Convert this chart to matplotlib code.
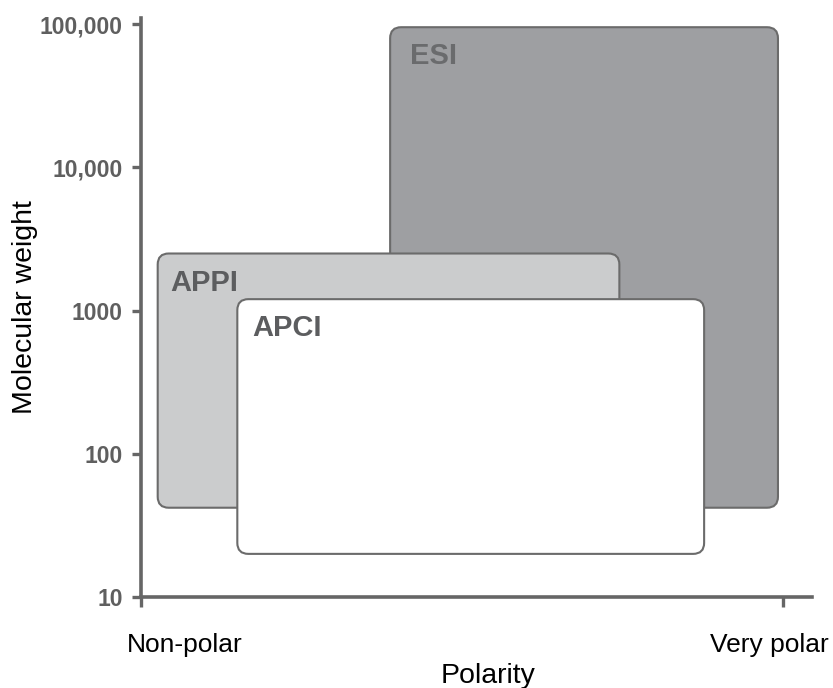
import matplotlib
matplotlib.use("Agg")
import matplotlib.pyplot as plt
from matplotlib.patches import FancyBboxPatch
from matplotlib.transforms import IdentityTransform
from matplotlib.ticker import NullLocator

plt.rcParams["font.family"] = ["Liberation Sans", "DejaVu Sans"]

# Ionisation techniques and the polarity / molecular-weight range each covers
techniques = ["ESI", "APPI", "APCI"]
polarity_low = [0.388, 0.026, 0.150]
polarity_high = [0.992, 0.745, 0.877]
mw_low = [42, 42, 20]
mw_high = [95000, 2500, 1200]

box_fills = ["#9e9fa2", "#cbcccd", "#ffffff"]
label_colors = ["#6a6b6d", "#5c5d5f", "#5c5d5f"]

y_ticks = [10, 100, 1000, 10000, 100000]
y_tick_labels = ["10", "100", "1000", "10,000", "100,000"]
x_ticks = [0, 1]
x_tick_labels = ["Non-polar", "Very polar"]

W, H = 833, 688
fig = plt.figure(figsize=(W / 100, H / 100), dpi=100)
fig.patch.set_facecolor("white")
ax = fig.add_axes([141 / W, (H - 597) / H, (812 - 141) / W, (597 - 18) / H])

ax.set_yscale("log")
ax.set_xlim(0, 1.045)
ax.set_ylim(10, 10 ** 5.042)

axis_grey = "#666666"
for side in ("top", "right"):
    ax.spines[side].set_visible(False)
for side in ("left", "bottom"):
    ax.spines[side].set_color(axis_grey)
    ax.spines[side].set_linewidth(2.6)

ax.set_yticks(y_ticks)
ax.set_yticklabels(y_tick_labels)
ax.yaxis.set_minor_locator(NullLocator())
ax.tick_params(axis="y", length=6.5, width=2.4, color=axis_grey,
               labelsize=16.5, labelcolor="#5f5f5f", pad=6.5)
for t in ax.get_yticklabels():
    t.set_fontweight("bold")

ax.set_xticks(x_ticks)
ax.set_xticklabels(["", ""])
ax.tick_params(axis="x", length=7.5, width=2.4, color=axis_grey)

# Rounded boxes, drawn in pixel space so the corners stay circular on the log axis
label_dx = [20, 13, 15]
for i, name in enumerate(techniques):
    x0, y0 = ax.transData.transform((polarity_low[i], mw_low[i]))
    x1, y1 = ax.transData.transform((polarity_high[i], mw_high[i]))
    box = FancyBboxPatch((x0, y0), x1 - x0, y1 - y0,
                         boxstyle="round,pad=0,rounding_size=11",
                         transform=IdentityTransform(),
                         facecolor=box_fills[i], edgecolor="#6b6b6b",
                         linewidth=1.5, zorder=2 + 2 * i)
    ax.add_patch(box)
    ax.annotate(name, xy=(polarity_low[i], mw_high[i]), xycoords="data",
                xytext=(label_dx[i], -37), textcoords="offset pixels",
                ha="left", va="baseline", fontsize=21, fontweight="bold",
                color=label_colors[i], zorder=3 + 2 * i)

# Polarity end labels under the axis
for xc, lbl in zip([0.0685, 0.978], x_tick_labels):
    ax.annotate(lbl, xy=(xc, 0), xycoords=("data", "axes fraction"),
                xytext=(0, -55), textcoords="offset pixels",
                ha="center", va="baseline", fontsize=19, color="black",
                annotation_clip=False)

ax.annotate("Polarity", xy=(0.540, 0), xycoords=("data", "axes fraction"),
            xytext=(0, -86), textcoords="offset pixels",
            ha="center", va="baseline", fontsize=20.5, color="black",
            annotation_clip=False)

ax.annotate("Molecular weight", xy=(0, 0.5), xycoords="axes fraction",
            xytext=(-116, 0), textcoords="offset pixels",
            ha="center", va="center", rotation=90, fontsize=20.5,
            color="black", annotation_clip=False)

fig.savefig("out.png", dpi=100, facecolor="white")
